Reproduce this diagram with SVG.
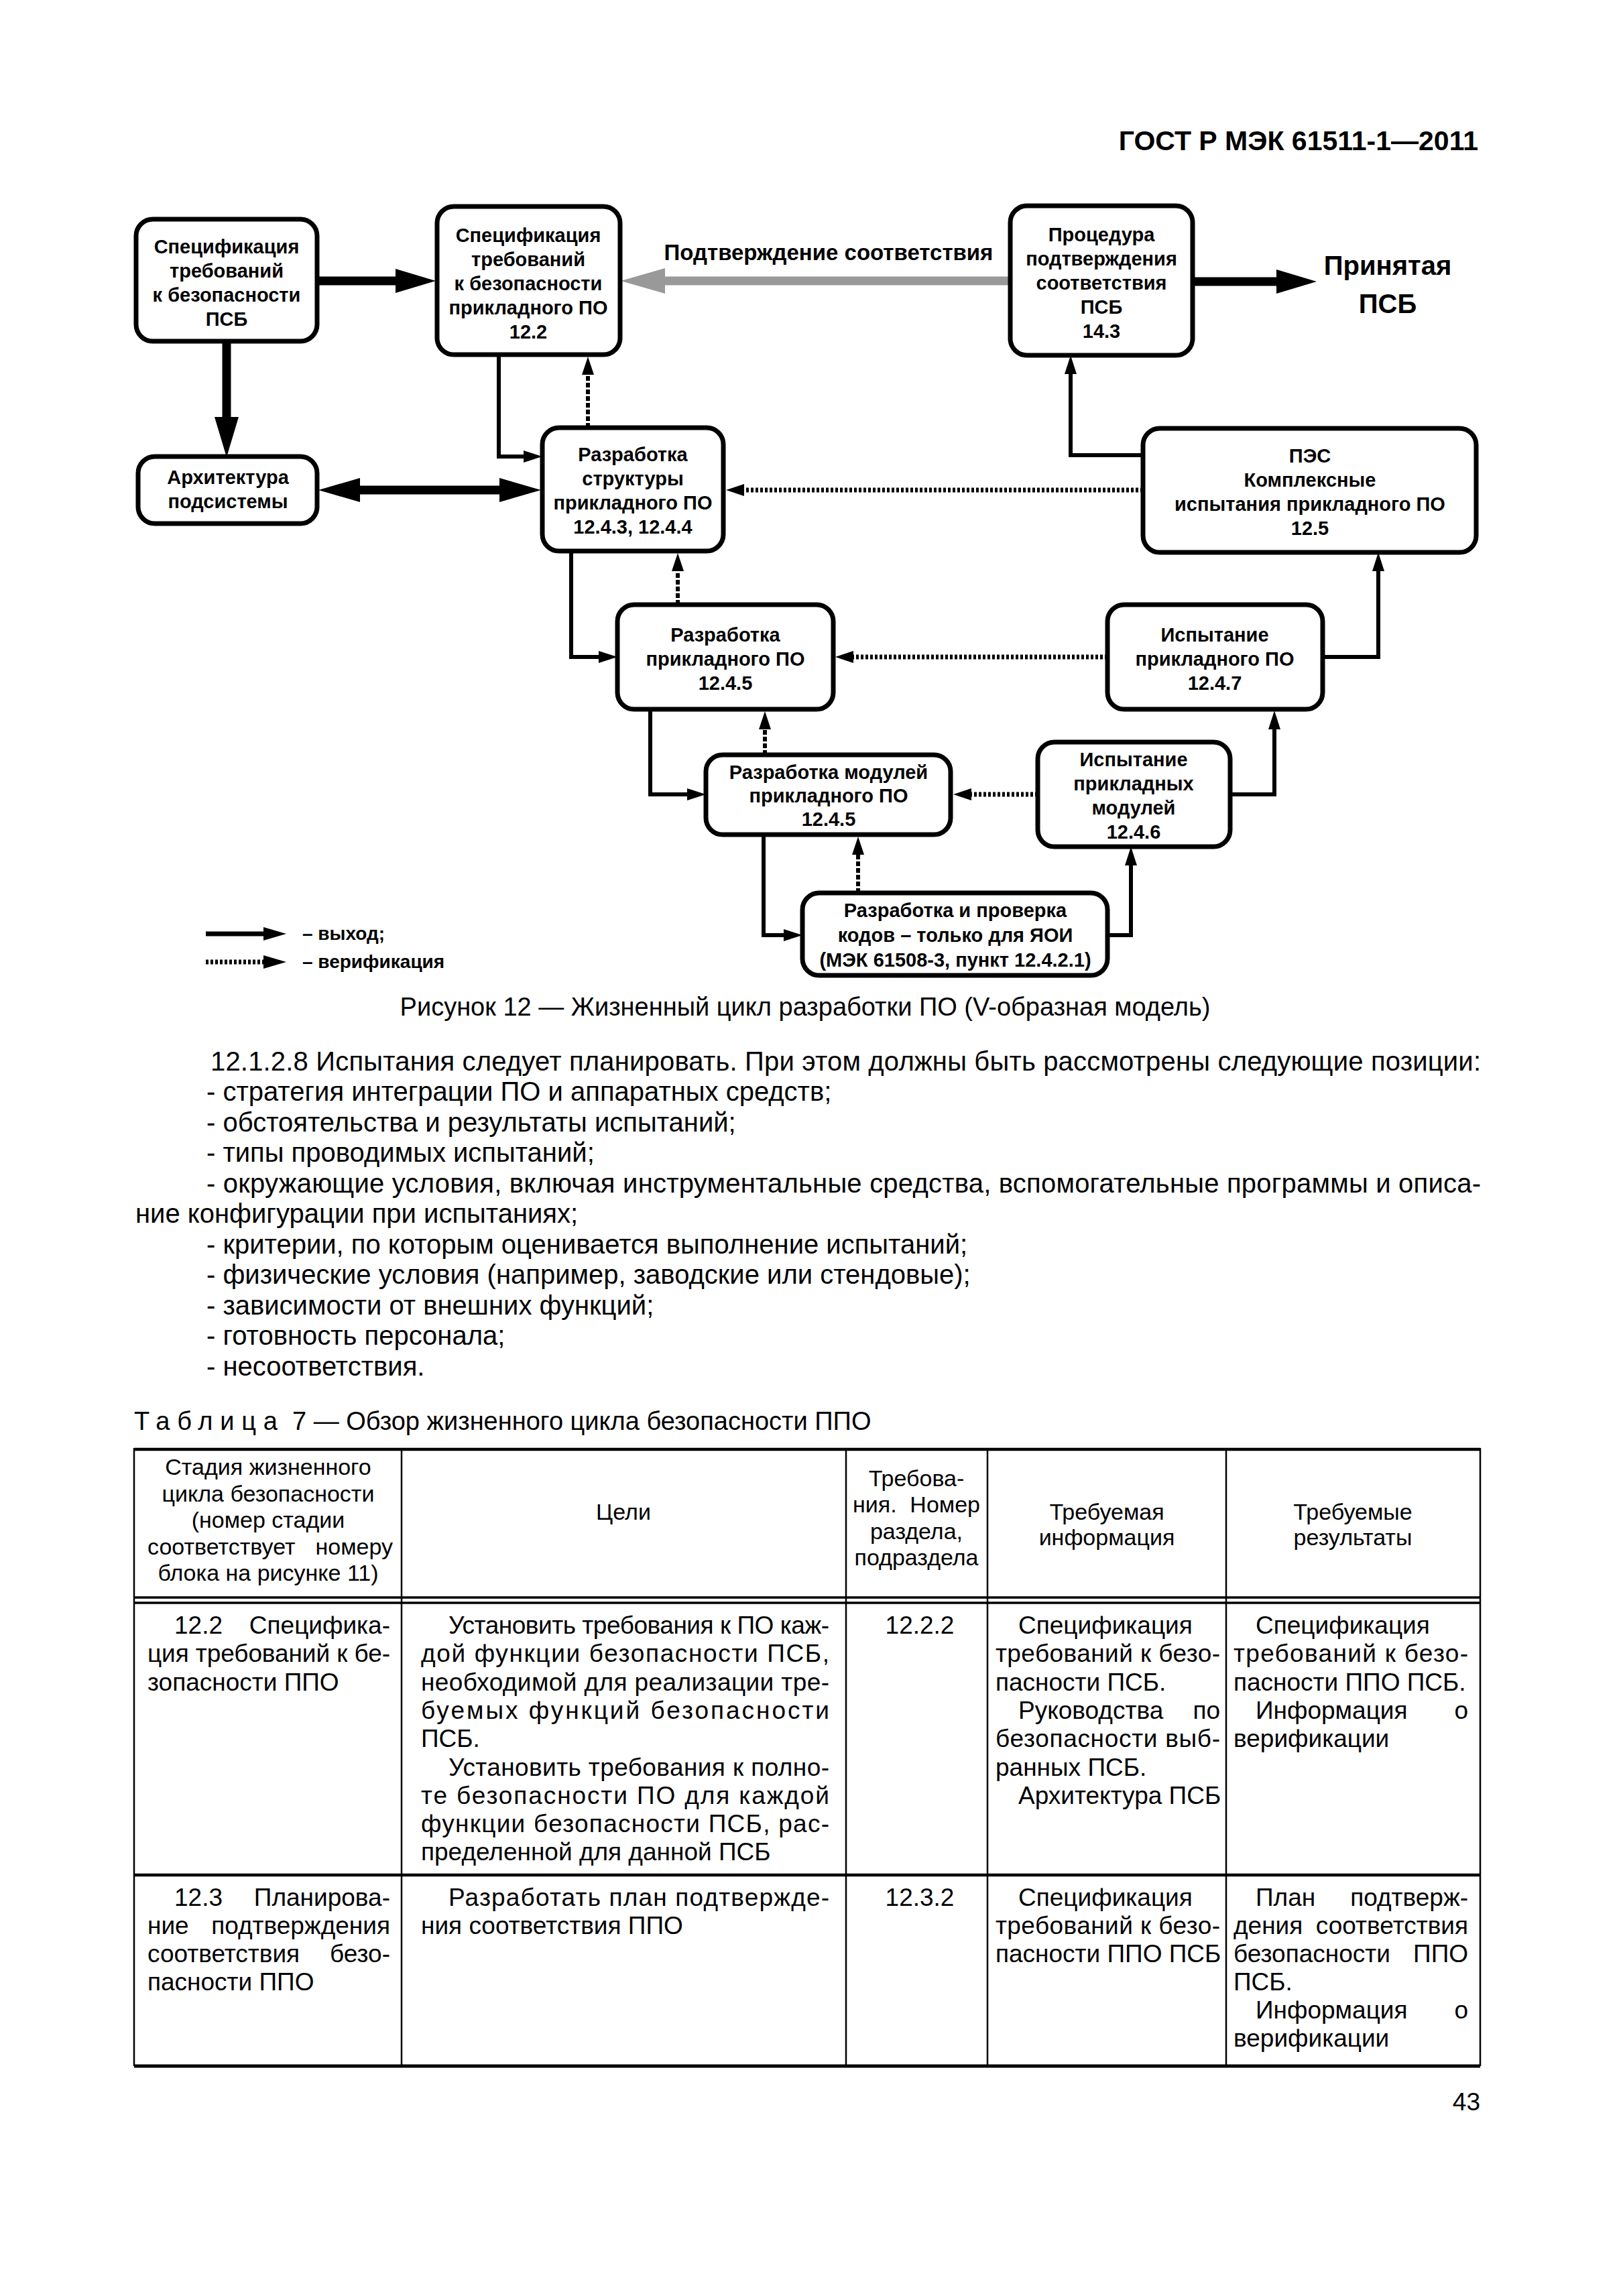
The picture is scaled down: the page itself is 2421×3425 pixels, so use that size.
<svg xmlns="http://www.w3.org/2000/svg" width="2421" height="3425" viewBox="0 0 2421 3425">
<style>
text{font-family:"Liberation Sans",Arial,sans-serif;fill:#000}
.bt{font-weight:bold;font-size:29px;text-anchor:middle}
.box{fill:#fff;stroke:#000;stroke-width:7}
.thin{fill:none;stroke:#000;stroke-width:6}
.thick{fill:none;stroke:#000;stroke-width:13}
.gray{fill:none;stroke:#999;stroke-width:13}
.dv{fill:none;stroke:#000;stroke-width:6;stroke-dasharray:7 3}
.dh{fill:none;stroke:#000;stroke-width:7;stroke-dasharray:4 3}
.body{font-size:40px}
.cap{font-size:38px}
.tb{font-size:37px}
.te{font-size:37px;text-anchor:end}
.tc{font-size:34px;text-anchor:middle}
.tr{font-size:37px;text-anchor:middle}
.tl{fill:none;stroke:#000;stroke-width:2.5}
.tk{fill:none;stroke:#000;stroke-width:4.5}
</style>
<defs>
<marker id="hThick" markerUnits="userSpaceOnUse" markerWidth="62" markerHeight="38" refX="0" refY="18" orient="auto" overflow="visible"><path d="M0,0 L60,18 L0,36 z" fill="#000"/></marker>
<marker id="hGray" markerUnits="userSpaceOnUse" markerWidth="68" markerHeight="40" refX="0" refY="19" orient="auto" overflow="visible"><path d="M0,0 L66,19 L0,38 z" fill="#999"/></marker>
<marker id="hThin" markerUnits="userSpaceOnUse" markerWidth="30" markerHeight="20" refX="0" refY="9" orient="auto" overflow="visible"><path d="M0,0 L28,9 L0,18 z" fill="#000"/></marker>
<marker id="hDot" markerUnits="userSpaceOnUse" markerWidth="30" markerHeight="22" refX="0" refY="9" orient="auto" overflow="visible"><path d="M0,0 L27,9 L0,18 z" fill="#000"/></marker>
<marker id="hDbl" markerUnits="userSpaceOnUse" markerWidth="64" markerHeight="38" refX="0" refY="18" orient="auto-start-reverse" overflow="visible"><path d="M0,0 L62,18 L0,36 z" fill="#000"/></marker>
<marker id="hLeg" markerUnits="userSpaceOnUse" markerWidth="36" markerHeight="22" refX="0" refY="10" orient="auto" overflow="visible"><path d="M0,0 L34,10 L0,20 z" fill="#000"/></marker>
</defs>
<rect width="2421" height="3425" fill="#fff"/>
<text x="2205" y="224" font-size="41" font-weight="bold" text-anchor="end">ГОСТ Р МЭК 61511-1—2011</text>

<g id="connectors">
<path class="thick" d="M473,419 H590" marker-end="url(#hThick)"/>
<path class="thick" d="M338,509 V622" marker-end="url(#hThick)"/>
<path class="thick" d="M537,731 H745" marker-start="url(#hDbl)" marker-end="url(#hDbl)"/>
<path class="thin" d="M744,529 V681 H781" marker-end="url(#hThin)"/>
<path class="dv" d="M877,638 V559" marker-end="url(#hDot)"/>
<path class="gray" d="M1507,419 H992" marker-end="url(#hGray)"/>
<path class="thick" d="M1779,420 H1904" marker-end="url(#hThick)"/>
<path class="thin" d="M1705,679 H1597 V558" marker-end="url(#hThin)"/>
<path class="dh" d="M1705,731 H1110" marker-end="url(#hDot)"/>
<path class="thin" d="M852,822 V980 H893" marker-end="url(#hThin)"/>
<path class="dv" d="M1011,902 V852" marker-end="url(#hDot)"/>
<path class="dh" d="M1652,980 H1273" marker-end="url(#hDot)"/>
<path class="thin" d="M1973,980 H2056 V852" marker-end="url(#hThin)"/>
<path class="thin" d="M970,1058 V1185 H1025" marker-end="url(#hThin)"/>
<path class="dv" d="M1141,1126 V1088" marker-end="url(#hDot)"/>
<path class="dh" d="M1548,1185 H1449" marker-end="url(#hDot)"/>
<path class="thin" d="M1835,1185 H1901 V1088" marker-end="url(#hThin)"/>
<path class="thin" d="M1139,1245 V1395 H1169" marker-end="url(#hThin)"/>
<path class="dv" d="M1280,1332 V1275" marker-end="url(#hDot)"/>
<path class="thin" d="M1652,1395 H1687 V1291" marker-end="url(#hThin)"/>
</g>

<text x="1236" y="388" font-size="33" font-weight="bold" text-anchor="middle">Подтверждение соответствия</text>
<g id="accepted">
<text x="2070" y="410" font-size="40" font-weight="bold" text-anchor="middle">Принятая</text>
<text x="2070" y="467" font-size="40" font-weight="bold" text-anchor="middle">ПСБ</text>
</g>

<g id="n1"><rect class="box" x="203" y="327" width="270" height="182" rx="25"/>
<text class="bt" x="338" y="378">Спецификация</text><text class="bt" x="338" y="414">требований</text><text class="bt" x="338" y="450">к безопасности</text><text class="bt" x="338" y="486">ПСБ</text></g>
<g id="n2"><rect class="box" x="652" y="308" width="273" height="221" rx="25"/>
<text class="bt" x="788" y="361">Спецификация</text><text class="bt" x="788" y="397">требований</text><text class="bt" x="788" y="433">к безопасности</text><text class="bt" x="788" y="469">прикладного ПО</text><text class="bt" x="788" y="505">12.2</text></g>
<g id="n3"><rect class="box" x="206" y="681" width="267" height="100" rx="25"/>
<text class="bt" x="340" y="722">Архитектура</text><text class="bt" x="340" y="758">подсистемы</text></g>
<g id="n4"><rect class="box" x="809" y="638" width="270" height="184" rx="25"/>
<text class="bt" x="944" y="688">Разработка</text><text class="bt" x="944" y="724">структуры</text><text class="bt" x="944" y="760">прикладного ПО</text><text class="bt" x="944" y="796">12.4.3, 12.4.4</text></g>
<g id="n5"><rect class="box" x="1507" y="307" width="272" height="223" rx="25"/>
<text class="bt" x="1643" y="360">Процедура</text><text class="bt" x="1643" y="396">подтверждения</text><text class="bt" x="1643" y="432">соответствия</text><text class="bt" x="1643" y="468">ПСБ</text><text class="bt" x="1643" y="504">14.3</text></g>
<g id="n6"><rect class="box" x="1705" y="639" width="497" height="185" rx="25"/>
<text class="bt" x="1954" y="690">ПЭС</text><text class="bt" x="1954" y="726">Комплексные</text><text class="bt" x="1954" y="762">испытания прикладного ПО</text><text class="bt" x="1954" y="798">12.5</text></g>
<g id="n7"><rect class="box" x="921" y="902" width="322" height="156" rx="25"/>
<text class="bt" x="1082" y="957">Разработка</text><text class="bt" x="1082" y="993">прикладного ПО</text><text class="bt" x="1082" y="1029">12.4.5</text></g>
<g id="n8"><rect class="box" x="1652" y="902" width="321" height="156" rx="25"/>
<text class="bt" x="1812" y="957">Испытание</text><text class="bt" x="1812" y="993">прикладного ПО</text><text class="bt" x="1812" y="1029">12.4.7</text></g>
<g id="n9"><rect class="box" x="1053" y="1126" width="365" height="119" rx="25"/>
<text class="bt" x="1236" y="1162">Разработка модулей</text><text class="bt" x="1236" y="1197">прикладного ПО</text><text class="bt" x="1236" y="1232">12.4.5</text></g>
<g id="n10"><rect class="box" x="1548" y="1107" width="287" height="156" rx="25"/>
<text class="bt" x="1691" y="1143">Испытание</text><text class="bt" x="1691" y="1179">прикладных</text><text class="bt" x="1691" y="1215">модулей</text><text class="bt" x="1691" y="1251">12.4.6</text></g>
<g id="n11"><rect class="box" x="1197" y="1332" width="455" height="123" rx="25"/>
<text class="bt" x="1425" y="1368">Разработка и проверка</text><text class="bt" x="1425" y="1405">кодов – только для ЯОИ</text><text class="bt" x="1425" y="1442">(МЭК 61508-3, пункт 12.4.2.1)</text></g>

<g id="legend">
<path d="M307,1393 H393" stroke="#000" stroke-width="7" fill="none" marker-end="url(#hLeg)"/>
<text x="451" y="1402" font-size="28" font-weight="bold">– выход;</text>
<path class="dh" d="M307,1435 H393" marker-end="url(#hLeg)"/>
<text x="451" y="1444" font-size="28" font-weight="bold">– верификация</text>
</g>

<text class="cap" x="1201" y="1515" text-anchor="middle">Рисунок 12 — Жизненный цикл разработки ПО (V-образная модель)</text>

<g id="bodytext">
<text class="body" x="314" y="1597" textLength="1895" lengthAdjust="spacing">12.1.2.8 Испытания следует планировать. При этом должны быть рассмотрены следующие позиции:</text>
<text class="body" x="308" y="1642">- стратегия интеграции ПО и аппаратных средств;</text>
<text class="body" x="308" y="1688">- обстоятельства и результаты испытаний;</text>
<text class="body" x="308" y="1733">- типы проводимых испытаний;</text>
<text class="body" x="308" y="1779" textLength="1901" lengthAdjust="spacing">- окружающие условия, включая инструментальные средства, вспомогательные программы и описа-</text>
<text class="body" x="202" y="1824">ние конфигурации при испытаниях;</text>
<text class="body" x="308" y="1870">- критерии, по которым оценивается выполнение испытаний;</text>
<text class="body" x="308" y="1915">- физические условия (например, заводские или стендовые);</text>
<text class="body" x="308" y="1961">- зависимости от внешних функций;</text>
<text class="body" x="308" y="2006">- готовность персонала;</text>
<text class="body" x="308" y="2052">- несоответствия.</text>
</g>

<g id="tablecaption">
<text x="200" y="2133" font-size="38" textLength="214" lengthAdjust="spacing">Таблица</text>
<text x="436" y="2133" font-size="38">7 — Обзор жизненного цикла безопасности ППО</text>
</g>

<g id="table">
<path class="tk" d="M200,2162 H2208"/>
<path class="tl" d="M200,2383 H2208 M200,2391 H2208" style="stroke-width:3.5"/>
<path class="tk" d="M200,2797 H2208"/>
<path class="tk" d="M200,3082 H2208" style="stroke-width:5"/>
<path class="tl" d="M200,2160 V3082 M599,2160 V3082 M1262,2160 V3082 M1473,2160 V3082 M1829,2160 V3082 M2208,2160 V3082"/>

<text class="tc" x="400" y="2200">Стадия жизненного</text>
<text class="tc" x="400" y="2240">цикла безопасности</text>
<text class="tc" x="400" y="2279">(номер стадии</text>
<text class="tc" x="220" y="2319" style="text-anchor:start">соответствует</text><text class="tc" x="586" y="2319" style="text-anchor:end">номеру</text>
<text class="tc" x="400" y="2358">блока на рисунке 11)</text>
<text class="tc" x="930" y="2267">Цели</text>
<text class="tc" x="1367" y="2217">Требова-</text>
<text class="tc" x="1272" y="2256" style="text-anchor:start">ния.</text><text class="tc" x="1462" y="2256" style="text-anchor:end">Номер</text>
<text class="tc" x="1367" y="2296">раздела,</text>
<text class="tc" x="1367" y="2335">подраздела</text>
<text class="tc" x="1651" y="2267">Требуемая</text>
<text class="tc" x="1651" y="2305">информация</text>
<text class="tc" x="2018" y="2267">Требуемые</text>
<text class="tc" x="2018" y="2305">результаты</text>

<text class="tb" x="260" y="2437">12.2</text><text class="te" x="582" y="2437">Специфика-</text>
<text class="tb" x="220" y="2479" textLength="362" lengthAdjust="spacing">ция требований к бе-</text>
<text class="tb" x="220" y="2522">зопасности ППО</text>

<text class="tb" x="669" y="2437" textLength="568" lengthAdjust="spacing">Установить требования к ПО каж-</text>
<text class="tb" x="628" y="2479" textLength="609" lengthAdjust="spacing">дой функции безопасности ПСБ,</text>
<text class="tb" x="628" y="2522" textLength="609" lengthAdjust="spacing">необходимой для реализации тре-</text>
<text class="tb" x="628" y="2564" textLength="609" lengthAdjust="spacing">буемых функций безопасности</text>
<text class="tb" x="628" y="2606">ПСБ.</text>
<text class="tb" x="669" y="2649" textLength="568" lengthAdjust="spacing">Установить требования к полно-</text>
<text class="tb" x="628" y="2691" textLength="609" lengthAdjust="spacing">те безопасности ПО для каждой</text>
<text class="tb" x="628" y="2733" textLength="609" lengthAdjust="spacing">функции безопасности ПСБ, рас-</text>
<text class="tb" x="628" y="2775">пределенной для данной ПСБ</text>

<text class="tr" x="1372" y="2437">12.2.2</text>

<text class="tb" x="1519" y="2437">Спецификация</text>
<text class="tb" x="1485" y="2479" textLength="335" lengthAdjust="spacing">требований к безо-</text>
<text class="tb" x="1485" y="2522">пасности ПСБ.</text>
<text class="tb" x="1519" y="2564">Руководства</text><text class="te" x="1820" y="2564">по</text>
<text class="tb" x="1485" y="2606" textLength="335" lengthAdjust="spacing">безопасности выб-</text>
<text class="tb" x="1485" y="2649">ранных ПСБ.</text>
<text class="tb" x="1519" y="2691">Архитектура ПСБ</text>

<text class="tb" x="1873" y="2437">Спецификация</text>
<text class="tb" x="1840" y="2479" textLength="350" lengthAdjust="spacing">требований к безо-</text>
<text class="tb" x="1840" y="2522">пасности ППО ПСБ.</text>
<text class="tb" x="1873" y="2564">Информация</text><text class="te" x="2190" y="2564">о</text>
<text class="tb" x="1840" y="2606">верификации</text>

<text class="tb" x="260" y="2843">12.3</text><text class="te" x="582" y="2843">Планирова-</text>
<text class="tb" x="220" y="2885">ние</text><text class="te" x="582" y="2885">подтверждения</text>
<text class="tb" x="220" y="2927">соответствия</text><text class="te" x="582" y="2927">безо-</text>
<text class="tb" x="220" y="2969">пасности ППО</text>

<text class="tb" x="669" y="2843" textLength="568" lengthAdjust="spacing">Разработать план подтвержде-</text>
<text class="tb" x="628" y="2885">ния соответствия ППО</text>

<text class="tr" x="1372" y="2843">12.3.2</text>

<text class="tb" x="1519" y="2843">Спецификация</text>
<text class="tb" x="1485" y="2885" textLength="335" lengthAdjust="spacing">требований к безо-</text>
<text class="tb" x="1485" y="2927">пасности ППО ПСБ</text>

<text class="tb" x="1873" y="2843">План</text><text class="te" x="2190" y="2843">подтверж-</text>
<text class="tb" x="1840" y="2885">дения</text><text class="te" x="2190" y="2885">соответствия</text>
<text class="tb" x="1840" y="2927">безопасности</text><text class="te" x="2190" y="2927">ППО</text>
<text class="tb" x="1840" y="2969">ПСБ.</text>
<text class="tb" x="1873" y="3011">Информация</text><text class="te" x="2190" y="3011">о</text>
<text class="tb" x="1840" y="3053">верификации</text>
</g>

<text x="2208" y="3148" font-size="37" text-anchor="end">43</text>
</svg>
